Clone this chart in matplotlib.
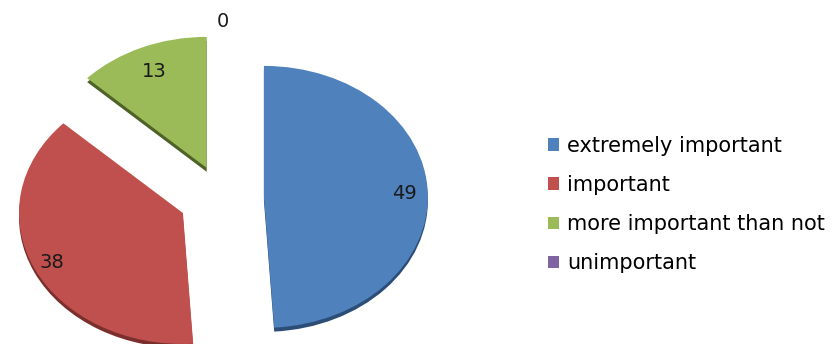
import matplotlib
matplotlib.use('Agg')
import matplotlib.pyplot as plt
import numpy as np

# chart data
categories = ['extremely important', 'important', 'more important than not', 'unimportant']
values = [49, 38, 13, 0]

colors = ['#4F81BD', '#C0504D', '#9BBB59', '#8064A2']
side_colors = ['#2C4D75', '#7A2F2C', '#4F6228', '#4B3A63']
explode = [0.25, 0.27, 0.25, 0.25]
label_dist = [0.86, 0.88, 0.80, 1.10]

plt.rcParams['font.family'] = ['DejaVu Sans']

fig = plt.figure(figsize=(8.38, 3.44), dpi=100)
ax = fig.add_axes([0, 0, 0.6, 1])

# darker copy shifted down gives the 3D edge
ax.pie(values, colors=side_colors, startangle=90, counterclock=False,
       explode=explode, center=(0, -0.03), wedgeprops=dict(linewidth=0))
wedges, _ = ax.pie(values, colors=colors, startangle=90, counterclock=False,
                   explode=explode, wedgeprops=dict(linewidth=0))

for w, v, d in zip(wedges, values, label_dist):
    ang = np.deg2rad((w.theta1 + w.theta2) / 2)
    cx, cy = w.center
    ax.text(cx + d*np.cos(ang), cy + d*np.sin(ang), str(v),
            ha='center', va='center', fontsize=14, color='#1a1a1a')

ax.set_aspect('auto')
ax.set_xlim(-1.360, 1.707)
ax.set_ylim(-1.115, 1.511)
ax.axis('off')

fig.legend(wedges, categories, loc='center left', bbox_to_anchor=(0.631, 0.405),
           frameon=False, fontsize=15, handlelength=0.55, handleheight=0.55,
           handletextpad=0.4, labelspacing=0.92)

fig.savefig('out.png', dpi=100)
plt.close(fig)
